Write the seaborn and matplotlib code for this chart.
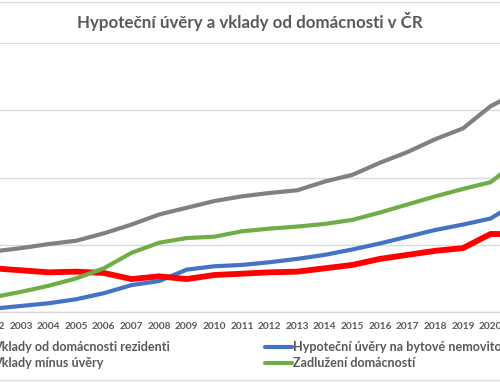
import matplotlib
matplotlib.use("Agg")
import matplotlib.pyplot as plt
import seaborn as sns
import pandas as pd
from matplotlib.lines import Line2D

years = list(range(2002, 2022))
vklady = [0.90, 0.95, 1.01, 1.06, 1.17, 1.30, 1.45, 1.55, 1.65, 1.72, 1.77, 1.81, 1.94,
          2.04, 2.22, 2.38, 2.57, 2.73, 3.06, 3.27]
hypoteky = [0.05, 0.09, 0.13, 0.19, 0.28, 0.40, 0.46, 0.63, 0.68, 0.70, 0.74, 0.79, 0.85,
            0.93, 1.02, 1.12, 1.22, 1.30, 1.39, 1.64]
rozdil = [0.65, 0.62, 0.59, 0.60, 0.58, 0.49, 0.53, 0.49, 0.55, 0.57, 0.59, 0.60, 0.65,
          0.70, 0.79, 0.85, 0.91, 0.95, 1.16, 1.16]
zadluzeni = [0.22, 0.30, 0.39, 0.50, 0.65, 0.88, 1.03, 1.10, 1.12, 1.20, 1.24, 1.27, 1.31,
             1.37, 1.48, 1.60, 1.72, 1.83, 1.93, 2.25]

names = ["Vklady od domácnosti rezidenti", "Hypoteční úvěry na bytové nemovitosti",
         "Vklady mínus úvěry", "Zadlužení domácností"]
series = [vklady, hypoteky, rozdil, zadluzeni]
colors = ["#808080", "#4472C4", "#FF0000", "#70AD47"]
widths = [3.0, 3.0, 4.2, 3.0]
title = "Hypoteční úvěry a vklady od domácnosti v ČR"

sns.set_style("white")
plt.rcParams['font.family'] = ['Lato', 'DejaVu Sans']
txt = "#595959"

fig = plt.figure(figsize=(5.0, 3.83), dpi=100)
W, H = 500, 383
left_px, right_px = -20.4, 532.0
top_px, bot_px = 43, 312
ax = fig.add_axes([left_px / W, (H - bot_px) / H, (right_px - left_px) / W, (bot_px - top_px) / H])

handles = []
for name, vals, c, lw in zip(names, series, colors, widths):
    df = pd.DataFrame({"year": years, "value": vals})
    sns.lineplot(data=df, x="year", y="value", ax=ax, color=c, linewidth=lw,
                 solid_capstyle="round", solid_joinstyle="round")
    handles.append(Line2D([0], [0], color=c, linewidth=lw))

ax.set_xlim(2001.5, 2021.5)
ax.set_ylim(0, 4)
ax.set_yticks([0, 1, 2, 3, 4])
ax.set_yticklabels([])
ax.set_xticks(years)
ax.set_xticklabels([str(y) for y in years], fontsize=7.3, color=txt, fontweight="bold")
ax.tick_params(axis="x", length=0, pad=7)
ax.tick_params(axis="y", length=0)
ax.grid(axis="y", color="#D9D9D9", linewidth=1.0)
ax.set_axisbelow(True)
for s in ["left", "right", "top"]:
    ax.spines[s].set_visible(False)
ax.spines["bottom"].set_color("#D9D9D9")
ax.spines["bottom"].set_linewidth(1.0)
ax.set_xlabel("")
ax.set_ylabel("")

fig.text(0.5, 1 - 21.5 / H, title, ha="center", va="center", fontsize=12.2,
         fontweight="bold", color=txt)

# chart-area border lines (top and bottom)
fig.add_artist(Line2D([0, 1], [1 - 2 / H, 1 - 2 / H], color="#D9D9D9", linewidth=1.0))
fig.add_artist(Line2D([0, 1], [1 - 380 / H, 1 - 380 / H], color="#D9D9D9", linewidth=1.0))

leg_kw = dict(frameon=False, labelcolor=txt, handlelength=2.1,
              handletextpad=0.15, labelspacing=0.32, borderaxespad=0, borderpad=0,
              loc="upper left", prop={"weight": "bold", "size": 9.1})
leg1 = fig.legend([handles[0], handles[2]], [names[0], names[2]],
                  bbox_to_anchor=(-35 / W, 1 - 341 / H), **leg_kw)
leg2 = fig.legend([handles[1], handles[3]], [names[1], names[3]],
                  bbox_to_anchor=(265 / W, 1 - 341 / H), **leg_kw)

fig.savefig("out.png", dpi=100)
